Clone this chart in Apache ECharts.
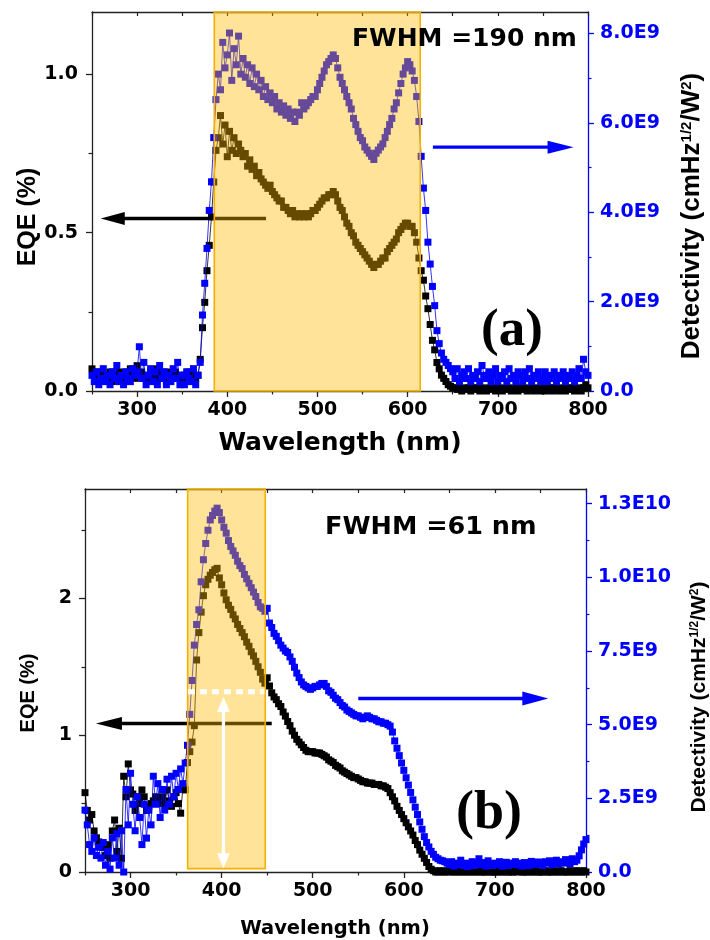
<!DOCTYPE html>
<html>
<head>
<meta charset="utf-8">
<script src="https://cdn.jsdelivr.net/npm/echarts@6/dist/echarts.min.js"></script>
<style>
  html, body { margin: 0; padding: 0; background: #ffffff; }
  #chart { width: 710px; height: 940px; }
</style>
</head>
<body>
<div id="chart"></div>
<script>
// Wavelength sampling (nm) shared by all four curves
const wavelength = [
  250,252.5,255,257.5,260,262.5,265,267.5,270,272.5,
  275,277.5,280,282.5,285,287.5,290,292.5,295,297.5,
  300,302.5,305,307.5,310,312.5,315,317.5,320,322.5,
  325,327.5,330,332.5,335,337.5,340,342.5,345,347.5,
  350,352.5,355,357.5,360,362.5,365,367.5,370,372.5,
  375,377.5,380,382.5,385,387.5,390,392.5,395,397.5,
  400,402.5,405,407.5,410,412.5,415,417.5,420,422.5,
  425,427.5,430,432.5,435,437.5,440,442.5,445,447.5,
  450,452.5,455,457.5,460,462.5,465,467.5,470,472.5,
  475,477.5,480,482.5,485,487.5,490,492.5,495,497.5,
  500,502.5,505,507.5,510,512.5,515,517.5,520,522.5,
  525,527.5,530,532.5,535,537.5,540,542.5,545,547.5,
  550,552.5,555,557.5,560,562.5,565,567.5,570,572.5,
  575,577.5,580,582.5,585,587.5,590,592.5,595,597.5,
  600,602.5,605,607.5,610,612.5,615,617.5,620,622.5,
  625,627.5,630,632.5,635,637.5,640,642.5,645,647.5,
  650,652.5,655,657.5,660,662.5,665,667.5,670,672.5,
  675,677.5,680,682.5,685,687.5,690,692.5,695,697.5,
  700,702.5,705,707.5,710,712.5,715,717.5,720,722.5,
  725,727.5,730,732.5,735,737.5,740,742.5,745,747.5,
  750,752.5,755,757.5,760,762.5,765,767.5,770,772.5,
  775,777.5,780,782.5,785,787.5,790,792.5,795,797.5,
  800
];

// Panel (a): EQE (%)
const eqeA = [
  0.07,0.06,0.05,0.04,0.06,0.03,0.05,0.04,0.06,0.03,
  0.05,0.04,0.06,0.05,0.03,0.06,0.04,0.07,0.05,0.04,
  0.08,0.05,0.06,0.04,0.05,0.03,0.06,0.04,0.05,0.07,
  0.04,0.06,0.05,0.03,0.06,0.04,0.05,0.06,0.04,0.05,
  0.03,0.05,0.04,0.06,0.03,0.05,0.04,0.05,0.10,0.20,
  0.28,0.38,0.46,0.55,0.66,0.76,0.80,0.87,0.78,0.84,
  0.74,0.82,0.76,0.80,0.75,0.78,0.76,0.74,0.75,0.71,
  0.73,0.70,0.71,0.68,0.69,0.67,0.66,0.65,0.64,0.65,
  0.63,0.62,0.61,0.60,0.60,0.58,0.58,0.57,0.56,0.57,
  0.55,0.56,0.55,0.56,0.55,0.56,0.55,0.56,0.57,0.57,
  0.58,0.59,0.60,0.61,0.61,0.62,0.62,0.63,0.62,0.60,
  0.58,0.57,0.55,0.53,0.52,0.50,0.49,0.47,0.46,0.45,
  0.44,0.43,0.42,0.41,0.40,0.39,0.40,0.40,0.41,0.42,
  0.42,0.44,0.45,0.46,0.47,0.48,0.50,0.51,0.52,0.53,
  0.53,0.52,0.52,0.50,0.47,0.42,0.38,0.35,0.30,0.26,
  0.21,0.16,0.13,0.09,0.07,0.05,0.04,0.03,0.02,0.015,
  0.01,0.01,0.005,0.01,0.0,0.01,0.005,0.01,0.0,0.01,
  0.005,0.01,0.0,0.01,0.005,0.0,0.01,0.005,0.01,0.0,
  0.01,0.005,0.0,0.01,0.005,0.01,0.0,0.005,0.01,0.0,
  0.01,0.005,0.01,0.0,0.005,0.01,0.0,0.01,0.005,0.0,
  0.01,0.0,0.005,0.01,0.0,0.01,0.005,0.0,0.01,0.005,
  0.0,0.01,0.005,0.01,0.0,0.005,0.01,0.0,0.01,0.02,
  0.01
];

// Panel (a): detectivity, in units of 1E9 cmHz^1/2/W
const detA = [
  0.35,0.21,0.43,0.14,0.28,0.50,0.21,0.35,0.14,0.43,
  0.28,0.57,0.21,0.35,0.14,0.43,0.28,0.21,0.50,0.35,
  0.43,0.99,0.28,0.64,0.14,0.35,0.50,0.21,0.43,0.14,
  0.57,0.28,0.43,0.14,0.35,0.21,0.50,0.28,0.64,0.14,
  0.35,0.14,0.43,0.28,0.21,0.50,0.14,0.35,0.64,1.70,
  2.41,3.19,4.04,4.68,5.67,6.52,7.09,6.74,7.80,7.23,
  7.52,8.01,6.95,7.66,7.30,7.94,7.09,7.44,7.02,7.30,
  6.88,7.23,6.81,7.09,6.74,6.95,6.59,6.81,6.52,6.67,
  6.45,6.59,6.31,6.45,6.24,6.38,6.17,6.31,6.10,6.24,
  6.03,6.24,6.17,6.45,6.31,6.38,6.45,6.52,6.59,6.59,
  6.74,6.88,7.02,7.16,7.30,7.37,7.44,7.52,7.44,7.23,
  7.02,6.88,6.74,6.59,6.45,6.31,6.10,5.96,5.81,5.67,
  5.60,5.46,5.39,5.32,5.25,5.18,5.32,5.39,5.46,5.53,
  5.67,5.81,5.96,6.10,6.31,6.45,6.67,6.88,7.09,7.23,
  7.37,7.30,7.16,6.95,6.59,6.03,5.25,4.54,4.04,3.33,
  2.84,2.34,1.91,1.35,1.06,0.85,0.71,0.64,0.57,0.50,
  0.43,0.28,0.50,0.21,0.35,0.43,0.28,0.50,0.21,0.35,
  0.28,0.43,0.21,0.57,0.35,0.28,0.43,0.21,0.35,0.50,
  0.21,0.35,0.28,0.43,0.21,0.50,0.28,0.35,0.21,0.43,
  0.35,0.21,0.43,0.28,0.50,0.21,0.35,0.28,0.43,0.21,
  0.28,0.43,0.21,0.35,0.28,0.43,0.21,0.35,0.28,0.43,
  0.21,0.35,0.28,0.43,0.21,0.35,0.50,0.28,0.71,0.43,
  0.35
];

// Panel (b): EQE (%)
const eqeB = [
  0.58,0.45,0.38,0.42,0.30,0.25,0.22,0.20,0.18,0.12,
  0.20,0.10,0.30,0.38,0.15,0.32,0.10,0.70,0.55,0.79,
  0.60,0.57,0.45,0.55,0.50,0.60,0.55,0.45,0.48,0.50,
  0.52,0.55,0.50,0.52,0.55,0.50,0.60,0.52,0.48,0.55,
  0.58,0.50,0.43,0.62,0.60,0.80,0.88,0.95,1.07,1.55,
  1.75,1.90,2.02,2.10,2.14,2.17,2.19,2.21,2.22,2.15,
  2.10,2.04,1.99,1.95,1.92,1.88,1.85,1.81,1.78,1.75,
  1.72,1.68,1.65,1.61,1.58,1.54,1.50,1.46,1.41,1.38,
  1.42,1.36,1.31,1.28,1.26,1.23,1.21,1.17,1.14,1.10,
  1.07,1.03,1.00,0.97,0.95,0.93,0.91,0.89,0.88,0.88,
  0.88,0.87,0.87,0.87,0.86,0.85,0.84,0.82,0.81,0.80,
  0.78,0.77,0.76,0.74,0.73,0.72,0.71,0.70,0.69,0.69,
  0.68,0.67,0.66,0.66,0.65,0.65,0.65,0.64,0.64,0.64,
  0.63,0.63,0.62,0.61,0.58,0.55,0.52,0.48,0.45,0.42,
  0.39,0.36,0.33,0.30,0.27,0.23,0.20,0.16,0.13,0.10,
  0.07,0.04,0.02,0.01,0.0,0.0,0.01,0.0,0.0,0.01,
  0.0,0.01,0.0,0.0,0.01,0.0,0.0,0.01,0.0,0.0,
  0.01,0.0,0.0,0.01,0.0,0.0,0.0,0.01,0.0,0.0,
  0.0,0.0,0.01,0.0,0.0,0.01,0.0,0.0,0.0,0.01,
  0.0,0.01,0.0,0.0,0.0,0.01,0.0,0.0,0.01,0.0,
  0.0,0.0,0.01,0.0,0.0,0.0,0.01,0.0,0.0,0.01,
  0.0,0.0,0.0,0.01,0.0,0.0,0.01,0.0,0.0,0.01,
  0.0
];

// Panel (b): detectivity, in units of 1E9 cmHz^1/2/W
const detB = [
  2.10,1.60,0.93,0.70,1.16,0.56,0.84,0.47,1.00,0.23,
  0.70,0.10,1.16,0.47,1.30,0.23,1.40,0.00,2.80,1.60,
  3.35,2.30,1.40,2.55,1.85,0.93,2.30,1.15,2.10,1.60,
  3.25,2.30,3.00,1.85,2.80,2.10,3.15,2.30,3.25,2.55,
  3.35,2.80,3.50,3.00,3.70,4.30,5.35,6.50,7.70,8.40,
  8.90,9.85,10.60,11.15,11.60,11.95,12.10,12.25,12.35,12.20,
  11.95,11.70,11.50,11.25,11.05,10.90,10.75,10.55,10.40,10.30,
  10.10,9.95,9.80,9.65,9.50,9.35,9.15,9.00,8.95,8.85,
  8.95,8.45,8.30,8.10,8.00,7.85,7.70,7.60,7.50,7.45,
  7.30,7.15,6.95,6.75,6.60,6.45,6.35,6.30,6.25,6.20,
  6.25,6.30,6.30,6.35,6.40,6.40,6.30,6.15,6.10,6.00,
  5.90,5.85,5.75,5.65,5.60,5.50,5.45,5.40,5.35,5.30,
  5.30,5.25,5.20,5.25,5.30,5.25,5.20,5.20,5.15,5.10,
  5.10,5.05,5.05,5.00,4.95,4.75,4.45,4.20,3.95,3.70,
  3.45,3.20,2.95,2.70,2.45,2.20,1.95,1.70,1.45,1.20,
  1.00,0.85,0.70,0.60,0.50,0.45,0.40,0.38,0.35,0.30,
  0.25,0.35,0.20,0.30,0.25,0.40,0.22,0.30,0.18,0.28,
  0.35,0.22,0.30,0.45,0.25,0.32,0.20,0.38,0.28,0.22,
  0.30,0.25,0.35,0.20,0.28,0.33,0.22,0.30,0.26,0.35,
  0.24,0.30,0.20,0.32,0.27,0.22,0.36,0.25,0.30,0.34,
  0.28,0.22,0.35,0.30,0.38,0.25,0.32,0.40,0.28,0.35,
  0.30,0.42,0.33,0.28,0.45,0.35,0.40,0.55,0.75,0.95,
  1.10
];

// Axis ticks and their labels
const waveTicks = [300, 400, 500, 600, 700, 800];
const waveMinorTicks = [250, 350, 450, 550, 650, 750];
const waveTopTicks = [250, 300, 350, 400, 450, 500, 550, 600, 650, 700, 750, 800];

const eqeTicksA = [0, 0.5, 1.0];
const eqeLabelsA = ['0.0', '0.5', '1.0'];
const eqeMinorA = [0.25, 0.75];
const detTicksA = [0, 2, 4, 6, 8];
const detLabelsA = ['0.0', '2.0E9', '4.0E9', '6.0E9', '8.0E9'];
const detMinorA = [1, 3, 5, 7];

const eqeTicksB = [0, 1, 2];
const eqeLabelsB = ['0', '1', '2'];
const eqeMinorB = [0.5, 1.5, 2.5];
const detTicksB = [0, 2.5, 5, 7.5, 10, 12.5];
const detLabelsB = ['0.0', '2.5E9', '5.0E9', '7.5E9', '1.0E10', '1.3E10'];
const detMinorB = [1.25, 3.75, 6.25, 8.75, 11.25];

// Highlighted response windows: [start nm, end nm, EQE bottom, EQE top]
const bandA = [385.6, 614, 0, 1.197];
const bandB = [362.7, 447.9, 0.025, 2.8];

// Guide arrows: [x0, eqe0, x1, eqe1] (arrow head at the second point)
const arrowsA = { black: [443, 0.545, 259.7, 0.545], blue: [628, 0.77, 784, 0.77] };
const arrowsB = { black: [455, 1.085, 262, 1.085], blue: [550, 1.268, 758.6, 1.268] };
const halfMaxLineB = [363, 1.317, 447, 1.317];
const heightArrowB = [402, 1.28, 402, 0.027];

const FONT = 'DejaVu Sans';
const AXIS_COLOR = '#222222';
const BLUE = '#0000ff';

const chart = echarts.init(document.getElementById('chart'), null, { renderer: 'canvas' });

const toPoints = (xs, ys) => xs.map((x, i) => [x, ys[i]]);
const labelFrom = (ticks, labels) => (v) => {
  const i = ticks.findIndex(t => Math.abs(t - v) < 1e-9);
  return i < 0 ? '' : labels[i];
};

const tickLabelStyle = (color) => ({
  fontFamily: FONT, fontWeight: 'bold', fontSize: 19, color: color
});

function xMain(grid) {
  return {
    gridIndex: grid, type: 'value', min: 250, max: 800, position: 'bottom',
    axisLine: { show: true, onZero: false, lineStyle: { color: AXIS_COLOR, width: 1.3 } },
    axisTick: { show: true, length: 6, customValues: waveTicks, lineStyle: { color: AXIS_COLOR, width: 1.3 } },
    axisLabel: Object.assign({ show: true, customValues: waveTicks, margin: 10 }, tickLabelStyle('#000')),
    splitLine: { show: false }
  };
}
function xTop(grid) {
  return {
    gridIndex: grid, type: 'value', min: 250, max: 800, position: 'top',
    axisLine: { show: true, onZero: false, lineStyle: { color: AXIS_COLOR, width: 1.3 } },
    axisTick: { show: true, inside: true, length: 4, customValues: waveTopTicks, lineStyle: { color: AXIS_COLOR, width: 1.2 } },
    axisLabel: { show: false },
    splitLine: { show: false }
  };
}
function xMinor(grid) {
  return {
    gridIndex: grid, type: 'value', min: 250, max: 800, position: 'bottom',
    axisLine: { show: false, onZero: false },
    axisTick: { show: true, length: 3.5, customValues: waveMinorTicks, lineStyle: { color: AXIS_COLOR, width: 1.2 } },
    axisLabel: { show: false },
    splitLine: { show: false }
  };
}
function yMain(grid, side, max, ticks, labels, color, margin) {
  return {
    gridIndex: grid, type: 'value', min: 0, max: max, position: side,
    axisLine: { show: true, onZero: false, lineStyle: { color: color, width: 1.3 } },
    axisTick: { show: true, length: 6, customValues: ticks, lineStyle: { color: color, width: 1.3 } },
    axisLabel: Object.assign({ show: true, customValues: ticks, formatter: labelFrom(ticks, labels), margin: margin },
      tickLabelStyle(color === AXIS_COLOR ? '#000' : color)),
    splitLine: { show: false }
  };
}
function yMinor(grid, side, max, ticks, color) {
  return {
    gridIndex: grid, type: 'value', min: 0, max: max, position: side,
    axisLine: { show: false, onZero: false },
    axisTick: { show: true, length: 3.5, customValues: ticks, lineStyle: { color: color, width: 1.2 } },
    axisLabel: { show: false },
    splitLine: { show: false }
  };
}

function curve(xi, yi, values, color, z) {
  return {
    type: 'line', xAxisIndex: xi, yAxisIndex: yi,
    data: toPoints(wavelength, values),
    symbol: 'rect', symbolSize: 7, showSymbol: true,
    itemStyle: { color: color },
    lineStyle: { color: color, width: 0.8 },
    z: z, silent: true, animation: false, clip: true
  };
}

function bandSeries(xi, yi, band) {
  return {
    type: 'custom', xAxisIndex: xi, yAxisIndex: yi, z: 5, silent: true, animation: false,
    data: [band],
    renderItem: (params, api) => {
      const p0 = api.coord([api.value(0), api.value(3)]);
      const p1 = api.coord([api.value(1), api.value(2)]);
      return {
        type: 'rect',
        shape: { x: p0[0], y: p0[1], width: p1[0] - p0[0], height: p1[1] - p0[1] },
        style: { fill: 'rgba(255,185,0,0.4)', stroke: '#f4b000', lineWidth: 1.6 }
      };
    }
  };
}

function headPoints(tip, dir, len, half) {
  const bx = tip[0] - dir[0] * len, by = tip[1] - dir[1] * len;
  return [[tip[0], tip[1]], [bx - dir[1] * half, by + dir[0] * half], [bx + dir[1] * half, by - dir[0] * half]];
}

function arrowSeries(xi, yi, seg, color, width, len, half, both, z) {
  return {
    type: 'custom', xAxisIndex: xi, yAxisIndex: yi, z: z, silent: true, animation: false,
    data: [seg],
    renderItem: (params, api) => {
      const p0 = api.coord([api.value(0), api.value(1)]);
      const p1 = api.coord([api.value(2), api.value(3)]);
      const dx = p1[0] - p0[0], dy = p1[1] - p0[1];
      const d = Math.sqrt(dx * dx + dy * dy);
      const dir = [dx / d, dy / d];
      const start = both ? [p0[0] + dir[0] * (len - 2), p0[1] + dir[1] * (len - 2)] : p0;
      const end = [p1[0] - dir[0] * (len - 2), p1[1] - dir[1] * (len - 2)];
      const children = [
        { type: 'line', shape: { x1: start[0], y1: start[1], x2: end[0], y2: end[1] },
          style: { stroke: color, lineWidth: width } },
        { type: 'polygon', shape: { points: headPoints(p1, dir, len, half) }, style: { fill: color } }
      ];
      if (both) {
        children.push({ type: 'polygon', shape: { points: headPoints(p0, [-dir[0], -dir[1]], len, half) }, style: { fill: color } });
      }
      return { type: 'group', children: children };
    }
  };
}

function dashedSeries(xi, yi, seg) {
  return {
    type: 'custom', xAxisIndex: xi, yAxisIndex: yi, z: 7, silent: true, animation: false,
    data: [seg],
    renderItem: (params, api) => {
      const p0 = api.coord([api.value(0), api.value(1)]);
      const p1 = api.coord([api.value(2), api.value(3)]);
      return {
        type: 'line', shape: { x1: p0[0], y1: p0[1], x2: p1[0], y2: p1[1] },
        style: { stroke: '#ffffff', lineWidth: 5, lineDash: [7, 5] }
      };
    }
  };
}

function text(x, y, str, font, opts) {
  return Object.assign({
    type: 'text', x: x, y: y, z: 100, silent: true,
    style: { text: str, font: font, fill: '#000', align: 'center', verticalAlign: 'middle' }
  }, opts || {});
}
function detectivityTitle(x, y, size, supSize) {
  return {
    type: 'text', x: x, y: y, z: 100, silent: true, rotation: Math.PI / 2,
    style: {
      text: '{m|Detectivity (cmHz}{s|1/2}{m|/W}{s|2}{m|)}',
      align: 'center', verticalAlign: 'middle',
      rich: {
        m: { fontFamily: 'Liberation Sans', fontWeight: 'bold', fontSize: size, fill: '#000' },
        s: { fontFamily: 'Liberation Sans', fontWeight: 'bold', fontSize: supSize, fill: '#000', verticalAlign: 'top' }
      }
    }
  };
}

const option = {
  backgroundColor: '#ffffff',
  animation: false,
  grid: [
    { left: 92, top: 12, width: 496, height: 379, outerBoundsMode: 'none', containLabel: false },
    { left: 92, top: 12, width: 496, height: 379, outerBoundsMode: 'none', containLabel: false },
    { left: 85, top: 489, width: 501, height: 383, outerBoundsMode: 'none', containLabel: false },
    { left: 85, top: 489, width: 501, height: 383, outerBoundsMode: 'none', containLabel: false }
  ],
  xAxis: [
    xMain(0), xTop(0), xMinor(1),
    xMain(2), xTop(2), xMinor(3)
  ],
  yAxis: [
    yMain(0, 'left', 1.197, eqeTicksA, eqeLabelsA, AXIS_COLOR, 14),
    yMain(0, 'right', 8.48, detTicksA, detLabelsA, BLUE, 12),
    yMinor(1, 'left', 1.197, eqeMinorA, AXIS_COLOR),
    yMinor(1, 'right', 8.48, detMinorA, BLUE),
    yMain(2, 'left', 2.8, eqeTicksB, eqeLabelsB, AXIS_COLOR, 13),
    yMain(2, 'right', 13.0, detTicksB, detLabelsB, BLUE, 12),
    yMinor(3, 'left', 2.8, eqeMinorB, AXIS_COLOR),
    yMinor(3, 'right', 13.0, detMinorB, BLUE)
  ],
  series: [
    // panel (a)
    curve(0, 0, eqeA, '#000000', 2),
    curve(0, 1, detA, BLUE, 3),
    arrowSeries(0, 0, arrowsA.black, '#000000', 3.5, 24, 6.5, false, 4),
    arrowSeries(0, 0, arrowsA.blue, BLUE, 3.2, 26, 6.5, false, 4),
    bandSeries(0, 0, bandA),
    // panel (b)
    curve(3, 4, eqeB, '#000000', 2),
    curve(3, 5, detB, BLUE, 3),
    arrowSeries(3, 4, arrowsB.black, '#000000', 3.5, 26, 6.5, false, 4),
    arrowSeries(3, 4, arrowsB.blue, BLUE, 3.5, 26, 7, false, 4),
    bandSeries(3, 4, bandB),
    dashedSeries(3, 4, halfMaxLineB),
    arrowSeries(3, 4, heightArrowB, '#ffffff', 3.3, 15, 6.5, true, 7)
  ],
  graphic: {
    elements: [
      text(352, 39.5, 'FWHM =190 nm', 'bold 25px "DejaVu Sans"', { style: { text: 'FWHM =190 nm', font: 'bold 25px "DejaVu Sans"', fill: '#000', align: 'left', verticalAlign: 'middle' } }),
      text(512, 331, '(a)', 'bold 53px "Liberation Serif"'),
      text(340, 443, 'Wavelength (nm)', 'bold 25px "DejaVu Sans"'),
      text(28, 217, 'EQE (%)', 'bold 25px "Liberation Sans"', { rotation: Math.PI / 2 }),
      detectivityTitle(692, 216, 26, 15),

      text(325, 527.5, 'FWHM =61 nm', 'bold 25.5px "DejaVu Sans"', { style: { text: 'FWHM =61 nm', font: 'bold 25.5px "DejaVu Sans"', fill: '#000', align: 'left', verticalAlign: 'middle' } }),
      text(489, 814, '(b)', 'bold 54px "Liberation Serif"'),
      text(335, 929, 'Wavelength (nm)', 'bold 19.5px "DejaVu Sans"'),
      text(28, 693, 'EQE (%)', 'bold 20px "Liberation Sans"', { rotation: Math.PI / 2 }),
      detectivityTitle(699, 697, 21, 12)
    ]
  }
};

chart.setOption(option);
</script>
</body>
</html>
